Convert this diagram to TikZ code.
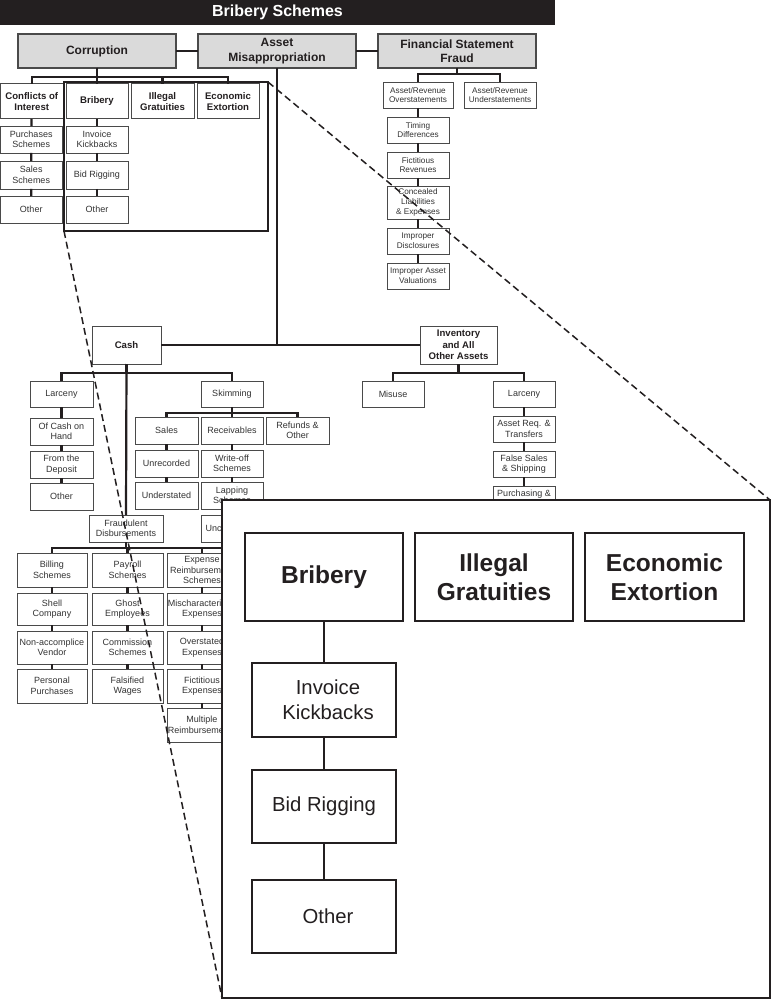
\documentclass[tikz,border=0pt]{standalone}
\usepackage{fontspec}
\setmainfont{Liberation Sans}
\usetikzlibrary{calc}
\definecolor{ink}{HTML}{231F20}
\definecolor{boxgray}{HTML}{DADADA}
\definecolor{edge}{HTML}{4A4A4A}
\definecolor{txt}{HTML}{333333}
\newcommand\bx[7][sbox]{\node[#1,minimum width={(#5-#3)*1pt},minimum height={(#6-#4)*1pt}] (#2) at ({(#3+#5)/2},{(#4+#6)/2}) {#7};}
\tikzset{
  base/.style={draw=edge, line width=0.8pt, fill=white, inner sep=0pt, outer sep=0pt, align=center, text=txt},
  sbox/.style={base, font=\fontsize{9}{10.5}\selectfont},
  fsbox/.style={base, font=\fontsize{8.2}{9.8}\selectfont},
  bbox/.style={base, text=ink, line width=1pt, font=\bfseries\fontsize{9.6}{11.5}\selectfont},
  gbox/.style={base, text=ink, fill=boxgray, draw=edge, line width=1.1pt, font=\bfseries\fontsize{12}{14.5}\selectfont},
  titlebar/.style={fill=ink, draw=none, inner sep=0pt, text=white, font=\bfseries\fontsize{16}{18}\selectfont},
  conn/.style={draw=ink, line width=2.2pt},
  frame/.style={draw=ink, line width=2pt, inner sep=0pt, outer sep=0pt},
  bigframe/.style={draw=ink, line width=2pt, fill=white, inner sep=0pt, outer sep=0pt},
  zbold/.style={base, text=ink, draw=ink, line width=1.6pt, font=\bfseries\fontsize{24.5}{29}\selectfont},
  zreg/.style={base, text=ink, draw=ink, line width=1.6pt, font=\fontsize{20.3}{25}\selectfont},
  zconn/.style={draw=ink, line width=2.4pt},
  dashline/.style={draw=ink, line width=1.5pt, dash pattern=on 7pt off 4pt},
}
\begin{document}
\begin{tikzpicture}[x=1pt,y=-1pt]
\useasboundingbox[fill=white] (0,0) rectangle (771,1000);
% title
\bx[titlebar]{title}{0}{0}{555}{25}{Bribery Schemes}
% top level
\bx[gbox]{corr}{18}{34}{176}{68}{Corruption}
\bx[gbox]{asset}{198}{34}{356}{68}{Asset\\Misappropriation}
\bx[gbox]{fsf}{378}{34}{536}{68}{Financial Statement\\Fraud}
\draw[conn] (corr.east) -- (asset.west);
\draw[conn] (asset.east) -- (fsf.west);
% corruption
\bx[bbox]{coi}{0.5}{84}{63}{119}{Conflicts of\\Interest}
\bx[bbox]{brib}{66}{84}{128}{119}{Bribery}
\bx[bbox]{ig}{131}{84}{194}{119}{Illegal\\Gratuities}
\bx[bbox]{ee}{197}{84}{259}{119}{Economic\\Extortion}
\foreach \c in {coi,brib,ig,ee} \draw[conn] (corr.south) -- ++(0,9) -| (\c.north);
\bx{ps}{0.5}{126}{62}{153}{Purchases\\Schemes}
\bx{ss}{0.5}{161}{62}{189}{Sales\\Schemes}
\bx{co}{0.5}{196}{62}{223}{Other}
\bx{ik}{66}{126}{128}{153}{Invoice\\Kickbacks}
\bx{br}{66}{161}{128}{189}{Bid Rigging}
\bx{bo}{66}{196}{128}{223}{Other}
\draw[conn] (coi) -- (ps) -- (ss) -- (co);
\draw[conn] (brib) -- (ik) -- (br) -- (bo);
\bx[frame]{frame}{64}{82}{268}{231}{}
% financial statement fraud
\bx[fsbox]{ao}{383}{82}{453}{108}{Asset/Revenue\\Overstatements}
\bx[fsbox]{au}{464}{82}{536}{108}{Asset/Revenue\\Understatements}
\draw[conn] (fsf.south) -- ++(0,6) -| (ao.north);
\draw[conn] (fsf.south) -- ++(0,6) -| (au.north);
\bx[fsbox]{td}{387}{117}{449}{143}{Timing\\Differences}
\bx[fsbox]{fr}{387}{152}{449}{178}{Fictitious\\Revenues}
\bx[fsbox]{cl}{387}{186}{449}{219}{Concealed\\Liabilities\\\& Expenses}
\bx[fsbox]{id}{387}{228}{449}{254}{Improper\\Disclosures}
\bx[fsbox]{iv}{387}{263}{449}{289}{Improper Asset\\Valuations}
\draw[conn] (ao) -- (td) -- (fr) -- (cl) -- (id) -- (iv);
% asset misappropriation
\bx[bbox]{cash}{92}{326}{161}{364}{Cash}
\bx[bbox]{inv}{420}{326}{497}{364}{Inventory\\and All\\Other Assets}
\draw[conn] (cash.east) -- (inv.west);
\draw[conn] (asset.south) -- (asset.south |- cash.east);
% cash
\bx{lar}{30}{381}{93}{407}{Larceny}
\bx{sk}{201}{381}{263}{407}{Skimming}
\draw[conn] (cash.south) -- ++(0,9) -| (lar.north);
\draw[conn] (cash.south) -- ++(0,9) -| (sk.north);
\bx{och}{30}{418}{93}{445}{Of Cash on\\Hand}
\bx{ftd}{30}{451}{93}{478}{From the\\Deposit}
\bx{lo}{30}{483}{93}{510}{Other}
\draw[conn] (lar) -- (och) -- (ftd) -- (lo);
\bx{sa}{135}{417}{198}{444}{Sales}
\bx{rc}{201}{417}{263}{444}{Receivables}
\bx{ro}{266}{417}{329}{444}{Refunds \&\\Other}
\foreach \c in {sa,rc,ro} \draw[conn] (sk.south) -- ++(0,6) -| (\c.north);
\bx{un}{135}{450}{198}{477}{Unrecorded}
\bx{ud}{135}{482}{198}{509}{Understated}
\bx{wo}{201}{450}{263}{477}{Write-off\\Schemes}
\bx{lp}{201}{482}{263}{509}{Lapping\\Schemes}
\bx{uc}{201}{515}{263}{542}{Unconcealed}
\draw[conn] (sa) -- (un) -- (ud);
\draw[conn] (rc) -- (wo) -- (lp) -- (uc);
% fraudulent disbursements
\bx{fd}{89}{515}{163}{542}{Fraudulent\\Disbursements}
\draw[conn] (cash.south) -- (fd.north);
\bx{bs}{17}{553}{87}{587}{Billing\\Schemes}
\bx{pay}{92}{553}{163}{587}{Payroll\\Schemes}
\bx{ers}{167}{553}{237}{587}{Expense\\Reimbursement\\Schemes}
\coordinate (fdbus) at (240,548);
\foreach \c in {bs,pay,ers} \draw[conn] (fd.south) -- ++(0,6) -| (\c.north);
\draw[conn] (fd.south |- fdbus) -- (fdbus);
\bx{sc}{17}{593}{87}{625}{Shell\\Company}
\bx{ge}{92}{593}{163}{625}{Ghost\\Employees}
\bx{me}{167}{593}{237}{625}{Mischaracterized\\Expenses}
\bx{nav}{17}{631}{87}{664}{Non-accomplice\\Vendor}
\bx{cs}{92}{631}{163}{664}{Commission\\Schemes}
\bx{oe}{167}{631}{237}{664}{Overstated\\Expenses}
\bx{pp}{17}{669}{87}{703}{Personal\\Purchases}
\bx{fw}{92}{669}{163}{703}{Falsified\\Wages}
\bx{fe}{167}{669}{237}{703}{Fictitious\\Expenses}
\bx{mr}{167}{708}{237}{742}{Multiple\\Reimbursements}
\draw[conn] (bs) -- (sc) -- (nav) -- (pp);
\draw[conn] (pay) -- (ge) -- (cs) -- (fw);
\draw[conn] (ers) -- (me) -- (oe) -- (fe) -- (mr);
% inventory
\bx{mis}{362}{381}{424}{407}{Misuse}
\bx{il}{493}{381}{555}{407}{Larceny}
\draw[conn] (inv.south) -- ++(0,9) -| (mis.north);
\draw[conn] (inv.south) -- ++(0,9) -| (il.north);
\bx{art}{493}{416}{555}{442}{Asset Req. \&\\Transfers}
\bx{fss}{493}{451}{555}{477}{False Sales\\\& Shipping}
\bx{pur}{493}{486}{555}{512}{Purchasing \&\\Receiving}
\draw[conn] (il) -- (art) -- (fss) -- (pur);
% zoomed view
\bx[bigframe]{zoom}{222}{500}{770}{998}{}
\bx[zbold]{zb}{245}{533}{403}{621}{Bribery}
\bx[zbold]{zig}{415}{533}{573}{621}{Illegal\\Gratuities}
\bx[zbold]{zee}{585}{533}{744}{621}{Economic\\Extortion}
\bx[zreg]{zik}{252}{663}{396}{737}{\hspace*{8pt}Invoice\\\hspace*{8pt}Kickbacks}
\bx[zreg]{zbr}{252}{770}{396}{843}{Bid Rigging}
\bx[zreg]{zo}{252}{880}{396}{953}{\hspace*{8pt}Other}
\draw[zconn] (zb) -- (zik) -- (zbr) -- (zo);
% dashed leaders
\draw[dashline] (frame.north east) -- (zoom.north east);
\draw[dashline] (frame.south west) -- (zoom.south west);
\end{tikzpicture}
\end{document}
